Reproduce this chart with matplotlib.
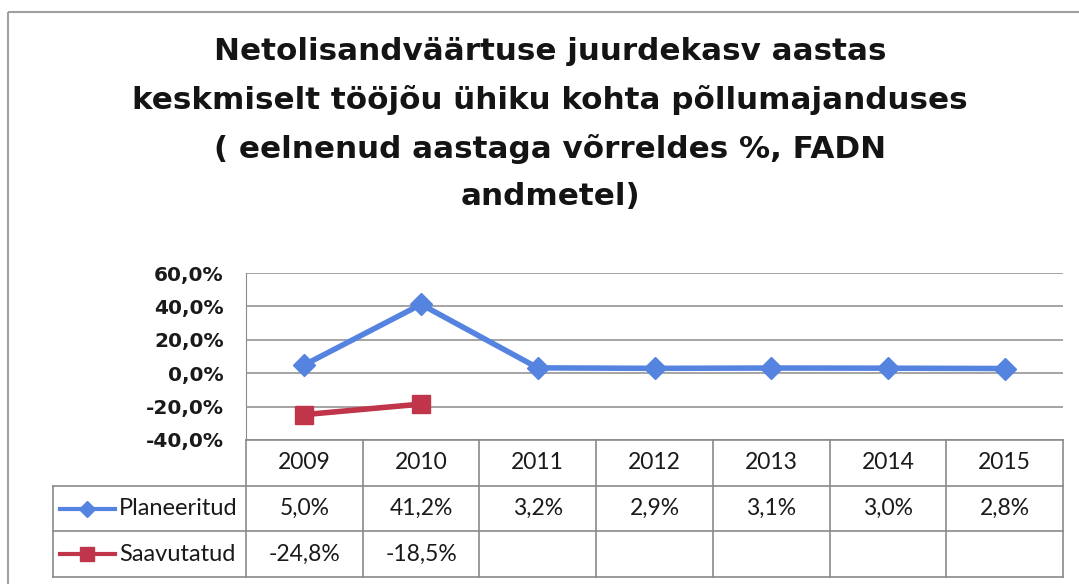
import matplotlib
matplotlib.use("Agg")
import matplotlib.pyplot as plt
from matplotlib.patches import Rectangle
import numpy as np

years = ["2009", "2010", "2011", "2012", "2013", "2014", "2015"]
planeeritud = [5.0, 41.2, 3.2, 2.9, 3.1, 3.0, 2.8]
saavutatud = [-24.8, -18.5]
series_names = ["Planeeritud", "Saavutatud"]
yticks = [-40, -20, 0, 20, 40, 60]
title = ("Netolisandväärtuse juurdekasv aastas\n"
         "keskmiselt tööjõu ühiku kohta põllumajanduses\n"
         "( eelnenud aastaga võrreldes %, FADN\n"
         "andmetel)")

BLUE = "#5584E0"
RED = "#C0354A"
GRID = "#8c8c8c"
FONT = ["Lato", "DejaVu Sans"]
BOLDFONT = ["DejaVu Sans"]

W, H = 1079, 584
fig = plt.figure(figsize=(W / 100, H / 100), dpi=100)
fig.patch.set_facecolor("white")


def px_axes(x0, y0, x1, y1):
    return fig.add_axes([x0 / W, 1 - y1 / H, (x1 - x0) / W, (y1 - y0) / H])


# outer chart border
border = px_axes(0, 0, W, H)
border.set_axis_off()
border.set_xlim(0, W)
border.set_ylim(H, 0)
border.add_patch(Rectangle((8, 12), W + 20, H - 8 - 12 + 20, fill=False,
                           edgecolor="#a0a0a0", lw=1.5))

# title
fig.text(550 / W, 1 - 124 / H, title, ha="center", va="center",
         fontsize=22.3, fontweight="bold", family=BOLDFONT, color="#141414",
         linespacing=1.80)

# plot area
L, R, T, B = 246, 1063, 273, 440
ax = px_axes(L, T, R, B)
x = np.arange(len(years))
ax.set_xlim(-0.5, len(years) - 0.5)
ax.set_ylim(-40, 60)
ax.set_yticks(yticks)
ax.set_yticklabels([f"{v:.1f}%".replace(".", ",") for v in yticks],
                   family=BOLDFONT, fontsize=14.5, fontweight="bold", color="#1a1a1a")
ax.tick_params(axis="y", length=0, pad=16)
ax.set_xticks([])
for s in ["top", "right", "bottom"]:
    ax.spines[s].set_visible(False)
ax.spines["left"].set_color(GRID)
ax.grid(axis="y", color=GRID, lw=1.1)
ax.set_axisbelow(True)

ax.plot(x, planeeritud, color=BLUE, lw=4, marker="D", ms=11,
        markerfacecolor=BLUE, markeredgecolor=BLUE, solid_joinstyle="round")
ax.plot(x[:len(saavutatud)], saavutatud, color=RED, lw=4, marker="s", ms=13,
        markerfacecolor=RED, markeredgecolor=RED)

# data table
TL = 53
TB = 577
tab = px_axes(TL, B, R, TB)
tab.set_axis_off()
col_w = (R - L) / len(years)
xl = -0.5 - (L - TL) / col_w
tab.set_xlim(xl, len(years) - 0.5)
tab.set_ylim(3, 0)
lc = "#8a8a8a"
tab.plot([-0.5, len(years) - 0.5], [0, 0], color=lc, lw=1.2, clip_on=False)
for yy in [1, 2, 3]:
    tab.plot([xl, len(years) - 0.5], [yy, yy], color=lc, lw=1.2, clip_on=False)
for i in range(len(years) + 1):
    tab.plot([i - 0.5, i - 0.5], [0, 3], color=lc, lw=1.2, clip_on=False)
tab.plot([xl, xl], [1, 3], color=lc, lw=1.2, clip_on=False)

tfs = 16.5
for i, yr in enumerate(years):
    tab.text(i, 0.5, yr, ha="center", va="center", fontsize=tfs, family=FONT, color="#1a1a1a")


def fmt(v):
    return f"{v:.1f}%".replace(".", ",")


for i, v in enumerate(planeeritud):
    tab.text(i, 1.5, fmt(v), ha="center", va="center", fontsize=tfs, family=FONT, color="#1a1a1a")
for i, v in enumerate(saavutatud):
    tab.text(i, 2.5, fmt(v), ha="center", va="center", fontsize=tfs, family=FONT, color="#1a1a1a")

# legend keys in row header
keys = [(BLUE, "D", 8), (RED, "s", 10)]
for r, (name, (c, m, ms)) in enumerate(zip(series_names, keys)):
    yy = 1.5 + r
    x0 = xl + (60 - TL) / col_w
    x1 = xl + (115 - TL) / col_w
    tab.plot([x0, x1], [yy, yy], color=c, lw=3)
    tab.plot([(x0 + x1) / 2], [yy], marker=m, ms=ms, color=c)
    tab.text(xl + (119 - TL) / col_w, yy, name, ha="left", va="center",
             fontsize=tfs + 0.5, family=FONT, color="#1a1a1a")

fig.savefig("out.png", dpi=100)
